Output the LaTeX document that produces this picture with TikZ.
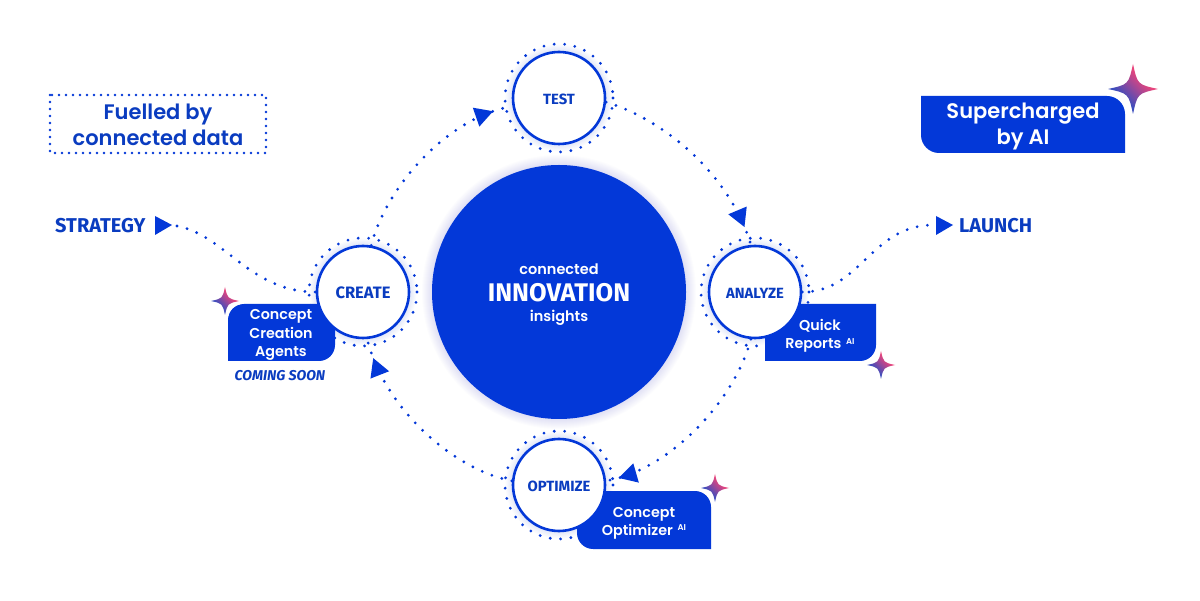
\documentclass[tikz,border=0pt]{standalone}
\usepackage{fontspec}
\setmainfont{Poppins}[BoldFont=Poppins SemiBold]
\newfontfamily\labelfont[BoldFont=Fira Sans Bold,ItalicFont=Fira Sans Italic,BoldItalicFont=Fira Sans Bold Italic]{Fira Sans}
\usetikzlibrary{decorations.markings,calc}
\definecolor{brand}{HTML}{0338D8}
\definecolor{inkb}{HTML}{0A3CC0}
\definecolor{starpink}{HTML}{E8447C}
\definecolor{starblue}{HTML}{3A4DBE}
\pgfdeclareverticalshading{starshade}{100bp}{color(0bp)=(starblue);color(36bp)=(starblue);color(64bp)=(starpink);color(100bp)=(starpink)}
\pgfdeclarelayer{bg}\pgfdeclarelayer{mid}
\pgfsetlayers{bg,mid,main}
\tikzset{
  dotline/.style={draw=brand,line width=3.1pt,line cap=round,dash pattern=on 0pt off 10.4pt},
  stepcircle/.style={circle,draw=brand,line width=2.6pt,fill=white,minimum size=92pt,inner sep=0pt,text=inkb,font=\labelfont\bfseries\fontsize{14.8}{16}\selectfont},
  steplabel/.style={text=inkb,inner sep=0pt,font=\labelfont\bfseries\fontsize{14.8}{16}\selectfont},
  conn/.style={dotline,postaction={decorate},decoration={markings,mark=at position #1 with {\fill[brand] (0,0)--(-18,-10)--(-18,10)--cycle;}}},
  plainconn/.style={dotline},
  tagtext/.style={text=white,align=center,inner sep=0pt,font=\fontsize{14.3}{18.2}\selectfont\bfseries},
  bigtag/.style={align=center,inner sep=0pt,font=\fontsize{21}{26}\selectfont\bfseries},
  stage/.style={text=inkb,inner sep=0pt,font=\labelfont\bfseries\fontsize{20}{22}\selectfont},
}
\newcommand{\sparkle}[3]{%
  \path[fill=white,draw=white,line width=#3*0.5pt,line join=round] (#1,#2-#3) .. controls (#1+#3*0.14,#2-#3*0.14) .. (#1+#3,#2) .. controls (#1+#3*0.14,#2+#3*0.14) .. (#1,#2+#3) .. controls (#1-#3*0.14,#2+#3*0.14) .. (#1-#3,#2) .. controls (#1-#3*0.14,#2-#3*0.14) .. cycle;
  \shade[shading=starshade,shading angle=-45] (#1,#2-#3) .. controls (#1+#3*0.18,#2-#3*0.18) .. (#1+#3,#2) .. controls (#1+#3*0.18,#2+#3*0.18) .. (#1,#2+#3) .. controls (#1-#3*0.18,#2+#3*0.18) .. (#1-#3,#2) .. controls (#1-#3*0.18,#2-#3*0.18) .. cycle;}
\newcommand{\glow}[4]{\foreach \gi in {1,...,#4}{\fill[brand,opacity=0.02] (#1,#2) circle ({#3+\gi*1.2});}}
% x1,y1,x2,y2, radii TL,TR,BR,BL
\newcommand{\tagshape}[8]{\fill[brand] (#1+#5,#2) -- (#3-#6,#2) .. controls (#3-#6*0.45,#2) and (#3,#2+#6*0.45) .. (#3,#2+#6) -- (#3,#4-#7) .. controls (#3,#4-#7*0.45) and (#3-#7*0.45,#4) .. (#3-#7,#4) -- (#1+#8,#4) .. controls (#1+#8*0.45,#4) and (#1,#4-#8*0.45) .. (#1,#4-#8) -- (#1,#2+#5) .. controls (#1,#2+#5*0.45) and (#1+#5*0.45,#2) .. (#1+#5,#2) -- cycle;}
\begin{document}
\begin{tikzpicture}[x=1pt,y=-1pt]
\useasboundingbox (0,0) rectangle (1200,601);

% centre
\begin{pgfonlayer}{bg}
\fill[white] (0,0) rectangle (1200,601);
\foreach \gi in {1,...,10}{\fill[brand,opacity=0.01] (559,292) circle ({127+\gi*1.0});}
\glow{559}{98}{45}{7}
\glow{363}{292}{45}{7}
\glow{755}{292}{45}{7}
\glow{559}{485}{45}{7}
\end{pgfonlayer}

\node[circle,fill=brand,minimum size=254pt,inner sep=0pt] (hub) at (559,292) {};
\node[text=white,inner sep=0pt,font=\fontsize{14.5}{16}\selectfont\bfseries] (hubA) at (559,269) {connected};
\node[text=white,inner sep=0pt,font=\labelfont\bfseries\fontsize{25.5}{28}\selectfont] (hubB) at (559,293) {INNOVATION};
\node[text=white,inner sep=0pt,font=\fontsize{14.5}{16}\selectfont\bfseries] (hubC) at (559,318) {insights};

% step circles
\node[stepcircle] (test) at (559,98) {};
\node[stepcircle] (create) at (363,292) {};
\node[stepcircle] (analyze) at (755,292) {};
\node[stepcircle] (optimize) at (559,485) {};
\node[steplabel] (testL) at (559,99) {TEST};
\node[steplabel,font=\labelfont\bfseries\fontsize{16.5}{18}\selectfont] (createL) at (363,293) {CREATE};
\node[steplabel] (analyzeL) at (755,293) {ANALYZE};
\node[steplabel] (optimizeL) at (559,486) {OPTIMIZE};

% dotted connectors and rings
\begin{pgfonlayer}{bg}
\foreach \cx/\cy in {559/98,363/292,755/292,559/485}{\draw[dotline] (\cx,\cy) circle (54);}
\draw[conn=-20pt] (create.80) .. controls (385,190) and (445,118) .. (test.190);
\draw[conn=-19pt] (test.-5) .. controls (665,120) and (730,175) .. (analyze.95);
\draw[conn=-13pt] (analyze.-95) .. controls (735,400) and (670,470) .. (optimize.5);
\draw[conn=-20pt] (optimize.175) .. controls (455,470) and (385,410) .. (create.-85);
\coordinate (stratTip) at (177,226);
\coordinate (launchTip) at (930,225);
\draw[plainconn] (stratTip) .. controls (225,235) and (250,292) .. (create.180);
\draw[plainconn] (analyze.0) .. controls (860,292) and (870,228) .. (launchTip);
\end{pgfonlayer}

% side labels
\node[stage,anchor=west] (strategy) at (55,226) {STRATEGY};
\fill[brand] (155,216)--(172,225)--(155,235)--cycle;
\node[stage,anchor=west] (launch) at (959,226) {LAUNCH};
\fill[brand] (936,216)--(953,225)--(936,235)--cycle;

% tags
\begin{pgfonlayer}{mid}
\tagshape{228}{304}{335}{361}{16}{0}{16}{0}
\tagshape{765}{304}{876}{361}{0}{0}{16}{0}
\tagshape{577}{491}{711}{549}{0}{16}{0}{16}
\sparkle{225}{301}{14}
\sparkle{881}{365}{14}
\sparkle{715}{488}{14}
\end{pgfonlayer}
\node[tagtext] (cca) at (281,335) {Concept\\Creation\\Agents};
\node[text=inkb,inner sep=0pt,font=\labelfont\bfseries\itshape\fontsize{14.2}{16}\selectfont] (soon) at (280,376) {COMING SOON};
\node[tagtext] (qr) at (820,336) {Quick\\Reports\,\,\raisebox{0.6ex}{\fontsize{8.5}{9}\selectfont AI}};
\node[tagtext] (co) at (644,523) {Concept\\Optimizer\,\,\raisebox{0.6ex}{\fontsize{8.5}{9}\selectfont AI}};

% corner tags
\draw[brand,line width=2.8pt,line cap=round,dash pattern=on 0pt off 7pt] (50,95) rectangle (266,153);
\node[bigtag,text=inkb] (fuel) at (158,125) {Fuelled by\\connected data};
\tagshape{921}{96}{1125}{153}{0}{18}{0}{18}
\sparkle{1133}{89}{25}
\node[bigtag,text=white] (sup) at (1023,126) {Supercharged\\by AI};
\end{tikzpicture}
\end{document}
